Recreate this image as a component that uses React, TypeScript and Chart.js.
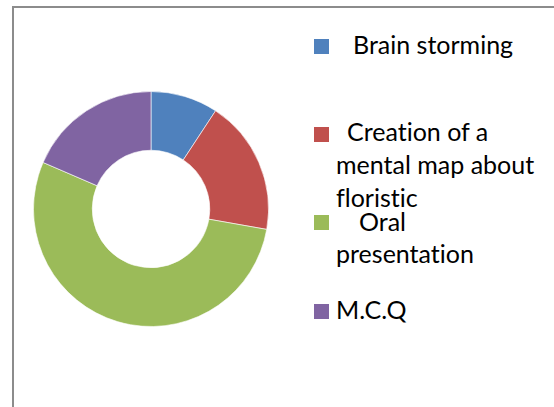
import React, { useEffect, useRef } from "react";
import { Chart, registerables } from "chart.js";

Chart.register(...registerables);

const categories = ["Brain storming", "Creation of a mental map about floristic", "Oral presentation", "M.C.Q"];
const values = [5, 10, 29, 10];
const colors = ["#4F81BD", "#C0504D", "#9BBB59", "#8064A2"];

// legend square tops (index, y)
const legendSquares: [number, number][] = [
  [0, 39],
  [1, 127],
  [2, 215],
  [3, 304],
];
// legend lines: [text, left x, baseline y]
const legendLines: [string, number, number][] = [
  ["Brain storming", 353, 54],
  ["Creation of a", 347, 141],
  ["mental map about", 336, 174],
  ["floristic", 336, 207],
  ["Oral", 359, 231],
  ["presentation", 336, 263],
  ["M.C.Q", 336, 319],
];

const FONT = "Lato, 'Open Sans', sans-serif";
const FONT_SIZE = 25;
const ASCENT = 0.987;

export default function App() {
  const ref = useRef<HTMLCanvasElement>(null);
  useEffect(() => {
    if (!ref.current) return;
    const chart = new Chart(ref.current, {
      type: "doughnut",
      data: {
        labels: categories,
        datasets: [
          {
            data: values,
            backgroundColor: colors,
            borderColor: "rgba(255,255,255,0.6)",
            borderWidth: 1,
            hoverOffset: 0,
          },
        ],
      },
      options: {
        animation: false,
        responsive: false,
        cutout: "50%",
        layout: { padding: 0 },
        plugins: { legend: { display: false }, tooltip: { enabled: false } },
      },
    });
    return () => chart.destroy();
  }, []);

  return (
    <div
      style={{
        position: "absolute",
        left: 0,
        top: 0,
        width: 554,
        height: 407,
        overflow: "hidden",
        background: "#fff",
      }}
    >
      <div
        style={{
          position: "absolute",
          left: 12,
          top: 6,
          width: 700,
          height: 600,
          border: "2px solid #8c8c8c",
          boxSizing: "border-box",
        }}
      />
      <canvas
        ref={ref}
        width={236}
        height={236}
        style={{ position: "absolute", left: 33, top: 91, width: 236, height: 236 }}
      />
      {legendSquares.map(([i, y]) => (
        <div
          key={"sq" + i}
          style={{
            position: "absolute",
            left: 314,
            top: y,
            width: 15,
            height: 15,
            background: colors[i],
          }}
        />
      ))}
      {legendLines.map(([t, x, base], i) => (
        <div
          key={"ln" + i}
          style={{
            position: "absolute",
            left: x,
            top: base - ASCENT * FONT_SIZE,
            lineHeight: FONT_SIZE * 1.2 + "px",
            fontFamily: FONT,
            fontSize: FONT_SIZE,
            fontVariantLigatures: "none",
            color: "#000",
            whiteSpace: "nowrap",
          }}
        >
          {t}
        </div>
      ))}
    </div>
  );
}
